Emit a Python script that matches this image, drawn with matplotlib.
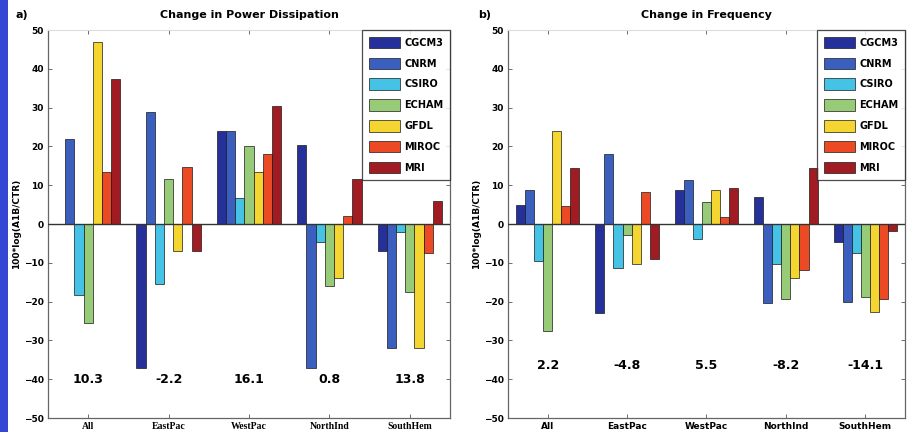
import numpy as np
import matplotlib
matplotlib.use("Agg")
import matplotlib.pyplot as plt
from matplotlib.patches import Rectangle

# categories / models
basins = ["All", "EastPac", "WestPac", "NorthInd", "SouthHem"]
models = ["CGCM3", "CNRM", "CSIRO", "ECHAM", "GFDL", "MIROC", "MRI"]
colors = ["#25309a", "#3b5fbf", "#45c3e6", "#98cb78", "#f5d530", "#ec4a25", "#a01c22"]

# values per model, one entry per basin
pdi_cgcm3 = [0.0, -37.0, 24.0, 20.5, -7.0]
pdi_cnrm = [22.0, 29.0, 24.0, -37.0, -32.0]
pdi_csiro = [-18.2, -15.4, 6.6, -4.7, -2.0]
pdi_echam = [-25.4, 11.5, 20.0, -16.0, -17.4]
pdi_gfdl = [47.0, -7.0, 13.3, -13.8, -32.0]
pdi_miroc = [13.3, 14.6, 18.0, 2.0, -7.5]
pdi_mri = [37.4, -7.0, 30.3, 11.5, 5.9]
pdi_means = ["10.3", "-2.2", "16.1", "0.8", "13.8"]

frq_cgcm3 = [5.0, -23.0, 8.7, 6.9, -4.7]
frq_cnrm = [8.7, 18.0, 11.3, -20.3, -20.0]
frq_csiro = [-9.5, -11.4, -3.9, -10.3, -7.5]
frq_echam = [-27.7, -2.8, 5.6, -19.2, -18.8]
frq_gfdl = [24.0, -10.3, 8.7, -13.8, -22.8]
frq_miroc = [4.7, 8.2, 1.7, -11.8, -19.2]
frq_mri = [14.4, -9.0, 9.2, 14.4, -1.8]
frq_means = ["2.2", "-4.8", "5.5", "-8.2", "-14.1"]

pdi = [pdi_cgcm3, pdi_cnrm, pdi_csiro, pdi_echam, pdi_gfdl, pdi_miroc, pdi_mri]
frq = [frq_cgcm3, frq_cnrm, frq_csiro, frq_echam, frq_gfdl, frq_miroc, frq_mri]

fig = plt.figure(figsize=(9.12, 4.32), dpi=100)
fig.patches.append(Rectangle((0, 0), 8 / 912, 1, transform=fig.transFigure,
                             facecolor="#3446d4", edgecolor="none"))


def draw_panel(ax, data, means, title, mean_y, cat_font, cat_size):
    x = np.arange(1, len(basins) + 1)
    w = 0.8 / len(models)
    for i, (vals, col, name) in enumerate(zip(data, colors, models)):
        ax.bar(x + (i - 3) * w, vals, width=w, color=col, edgecolor="#1a1a1a",
               linewidth=0.5, label=name, zorder=2)
    ax.axhline(0, color="#333333", linewidth=1.0, zorder=3)
    ax.set_xlim(0.5, 5.5)
    ax.set_ylim(-50, 50)
    ax.set_yticks(np.arange(-50, 51, 10))
    ax.set_xticks(x)
    ax.set_xticklabels(basins, fontsize=cat_size, fontweight="bold", family=cat_font)
    ax.tick_params(axis="both", direction="in", length=3, width=0.6,
                   top=True, right=True, color="#555555")
    ax.tick_params(axis="y", labelsize=6.5, pad=3)
    ax.tick_params(axis="x", pad=3)
    for lab in ax.get_yticklabels():
        lab.set_fontweight("bold")
    for s in ["left", "right", "bottom"]:
        ax.spines[s].set_color("#666666")
        ax.spines[s].set_linewidth(0.9)
    ax.spines["top"].set_color("#dddddd")
    ax.set_ylabel("100*log(A1B/CTR)", fontsize=6.5, fontweight="bold", labelpad=2)
    ax.set_title(title, fontsize=8, fontweight="bold", pad=9)
    for xi, m in zip(x, means):
        ax.text(xi, mean_y, m, ha="center", va="center", fontsize=9, fontweight="bold")
    leg = ax.legend(loc="upper right", borderaxespad=0, fontsize=7, fancybox=False,
                    handlelength=3.2, handleheight=1.45, labelspacing=0.95,
                    handletextpad=0.4, borderpad=0.7)
    leg.get_frame().set_edgecolor("#222222")
    leg.get_frame().set_linewidth(0.9)
    for t in leg.get_texts():
        t.set_fontweight("bold")
    leg.set_zorder(5)


ax1 = fig.add_axes([0.0526, 0.0324, 0.4408, 0.898])
ax2 = fig.add_axes([0.557, 0.0324, 0.4353, 0.898])
draw_panel(ax1, pdi, pdi_means, "Change in Power Dissipation", -40, "Liberation Serif", 7)
draw_panel(ax2, frq, frq_means, "Change in Frequency", -36.5, "DejaVu Sans", 6.5)

fig.text(16 / 912, 1 - 15 / 432, "a)", fontsize=8, fontweight="bold", va="center")
fig.text(478 / 912, 1 - 15 / 432, "b)", fontsize=8, fontweight="bold", va="center")

fig.savefig("out.png", dpi=100)
